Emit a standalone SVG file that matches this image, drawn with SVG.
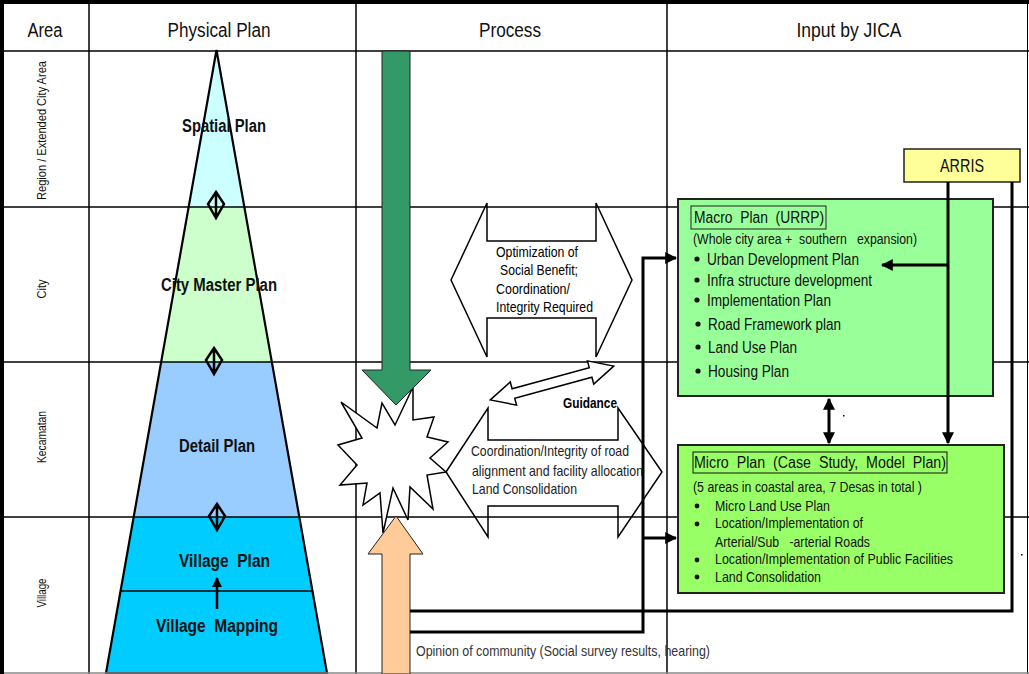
<svg xmlns="http://www.w3.org/2000/svg" width="1029" height="674" viewBox="0 0 1029 674">
  <style>
    text { font-family: "Liberation Sans Narrow", "Liberation Sans", Arial, sans-serif; fill: #111; }
    .hdr { font-size: 20px; text-anchor: middle; }
    .area { font-size: 13px; text-anchor: middle; }
    .tier { font-size: 18px; font-weight: bold; text-anchor: middle; }
    .proc { font-size: 15px; fill: #000; }
    .proc2 { font-size: 14.5px; fill: #222; }
    .guide { font-size: 14px; font-weight: bold; fill: #000; }
    .box { font-size: 16px; }
    .sub { font-size: 14px; }
    .mic { font-size: 15px; }
    .note { font-size: 15px; fill: #333; }
    .grid { stroke: #000; stroke-width: 1.5; fill: none; }
    .conn { stroke: #000; stroke-width: 3; fill: none; }
    .shape { stroke: #000; stroke-width: 1.5; }
  </style>
  <defs>
    <marker id="ah" viewBox="0 0 10 10" refX="9" refY="5" markerWidth="4" markerHeight="4" orient="auto-start-reverse" markerUnits="strokeWidth">
      <path d="M0,0 L10,5 L0,10 Z" fill="#000"/>
    </marker>
    <g id="diamond">
      <path d="M0,-13 L8,-1 L0,13 L-8,-1 Z M0,-13 V13" fill="none" stroke="#000" stroke-width="2.5" stroke-linejoin="miter"/>
    </g>
  </defs>

  <rect x="0" y="0" width="1029" height="674" fill="#fff"/>

  <!-- Physical plan pyramid -->
  <g id="pyramid">
    <polygon points="216.5,50 244.4,207 188.6,207" fill="#CCFFFF"/>
    <polygon points="188.6,207 244.4,207 271.8,362 161.2,362" fill="#CCFFCC"/>
    <polygon points="161.2,362 271.8,362 299.3,517 133.7,517" fill="#99CCFF"/>
    <polygon points="133.7,517 299.3,517 327,673 106,673" fill="#00CCFF"/>
    <polygon points="216.5,50 327,673 106,673" fill="none" stroke="#000" stroke-width="2.2"/>
    <line x1="120" y1="591" x2="312" y2="591" stroke="#000" stroke-width="1.5"/>
  </g>

  <!-- Table grid -->
  <g id="grid">
    <line class="grid" x1="0" y1="51" x2="1029" y2="51"/>
    <line class="grid" x1="0" y1="207" x2="1029" y2="207"/>
    <line class="grid" x1="0" y1="362" x2="1029" y2="362"/>
    <line class="grid" x1="0" y1="517" x2="1029" y2="517"/>
    <line class="grid" x1="89" y1="2" x2="89" y2="674"/>
    <line class="grid" x1="356" y1="2" x2="356" y2="674"/>
    <line class="grid" x1="667" y1="2" x2="667" y2="674"/>
    <line x1="1027.5" y1="2" x2="1027.5" y2="674" stroke="#000" stroke-width="1"/>
    <line x1="0" y1="673" x2="1029" y2="673" stroke="#888" stroke-width="1.5"/>
    <line x1="0" y1="2" x2="1029" y2="2" stroke="#000" stroke-width="4"/>
    <line x1="2" y1="0" x2="2" y2="674" stroke="#000" stroke-width="4"/>
  </g>

  <!-- Header labels -->
  <g id="header">
    <text class="hdr" x="45" y="37" textLength="35" lengthAdjust="spacingAndGlyphs">Area</text>
    <text class="hdr" x="219" y="37" textLength="103" lengthAdjust="spacingAndGlyphs">Physical Plan</text>
    <text class="hdr" x="510" y="37" textLength="62" lengthAdjust="spacingAndGlyphs">Process</text>
    <text class="hdr" x="849" y="37" textLength="105" lengthAdjust="spacingAndGlyphs">Input by JICA</text>
  </g>

  <!-- Area level labels -->
  <g id="areas">
    <text class="area" transform="translate(46,130.5) rotate(-90)" textLength="139" lengthAdjust="spacingAndGlyphs">Region / Extended City Area</text>
    <text class="area" transform="translate(46,289) rotate(-90)" textLength="19" lengthAdjust="spacingAndGlyphs">City</text>
    <text class="area" transform="translate(46,437) rotate(-90)" textLength="52" lengthAdjust="spacingAndGlyphs">Kecamatan</text>
    <text class="area" transform="translate(46,593) rotate(-90)" textLength="29" lengthAdjust="spacingAndGlyphs">Village</text>
  </g>

  <!-- Pyramid tier labels and links -->
  <g id="tiers">
    <text class="tier" x="224" y="132" textLength="84" lengthAdjust="spacingAndGlyphs">Spatial Plan</text>
    <text class="tier" x="219" y="291" textLength="116" lengthAdjust="spacingAndGlyphs">City Master Plan</text>
    <text class="tier" x="217" y="452" textLength="76" lengthAdjust="spacingAndGlyphs">Detail Plan</text>
    <text class="tier" x="224.5" y="567" xml:space="preserve" textLength="91" lengthAdjust="spacingAndGlyphs">Village  Plan</text>
    <text class="tier" x="217" y="632" xml:space="preserve" textLength="122" lengthAdjust="spacingAndGlyphs">Village  Mapping</text>
    <use href="#diamond" x="216" y="205"/>
    <use href="#diamond" x="214" y="361"/>
    <use href="#diamond" x="217" y="517"/>
    <line x1="217" y1="609" x2="217" y2="578" stroke="#000" stroke-width="2.5" marker-end="url(#ah)"/>
  </g>

  <!-- Process column -->
  <g id="coordination-upper">
    <path class="shape" fill="none" d="M451,280 L487,203 L487,241 L596,241 L596,203 L632,280 L596,357 L596,318 L487,318 L487,357 Z"/>
    <text class="proc" x="496" y="257" textLength="82" lengthAdjust="spacingAndGlyphs">Optimization of</text>
    <text class="proc" x="500" y="275" textLength="78" lengthAdjust="spacingAndGlyphs">Social Benefit;</text>
    <text class="proc" x="496" y="294" textLength="74" lengthAdjust="spacingAndGlyphs">Coordination/</text>
    <text class="proc" x="496" y="312" textLength="97" lengthAdjust="spacingAndGlyphs">Integrity Required</text>
  </g>

  <g id="coordination-lower">
    <path class="shape" fill="none" d="M446,472 L488,408 L488,440 L618,440 L618,408 L662,472 L618,537 L618,506 L488,506 L488,537 Z"/>
    <text class="proc2" x="471" y="456" textLength="158" lengthAdjust="spacingAndGlyphs">Coordination/Integrity of road</text>
    <text class="proc2" x="472" y="476" textLength="171" lengthAdjust="spacingAndGlyphs">alignment and facility allocation</text>
    <text class="proc2" x="472" y="494" textLength="105" lengthAdjust="spacingAndGlyphs">Land Consolidation</text>
  </g>

  <g id="guidance">
    <path class="shape" fill="#fff" transform="translate(552,383) rotate(-15.3)" d="M-64,0 L-40,-12 L-40,-5 L40,-5 L40,-12 L64,0 L40,12 L40,5 L-40,5 L-40,12 Z"/>
    <text class="guide" x="563" y="408" textLength="54" lengthAdjust="spacingAndGlyphs">Guidance</text>
  </g>

  <g id="burst">
    <polygon class="shape" fill="#fff" points="341,402 377,428 382,403 395,425 413,387 413,420 434,417 427,437 448,442 430,458 446,472 427,475 433,509 410,487 408,520 393,488 383,533 380,493 363,505 367,483 340,485 357,465 338,445 362,438"/>
  </g>

  <g id="top-down-arrow">
    <path d="M382,51 L410,51 L410,370 L431,370 L396,405 L362,370 L382,370 Z" fill="#339966" stroke="#222" stroke-width="1"/>
  </g>

  <g id="bottom-up-arrow">
    <path d="M396,516 L423,554 L410,554 L410,674 L382,674 L382,554 L368,554 Z" fill="#FFCC99" stroke="#222" stroke-width="1"/>
  </g>

  <!-- JICA inputs -->
  <g id="arris">
    <rect x="904" y="149" width="116" height="33" fill="#FFFF99" stroke="#222" stroke-width="1.5"/>
    <text x="962" y="172" style="font-size:18px;text-anchor:middle" textLength="44" lengthAdjust="spacingAndGlyphs">ARRIS</text>
  </g>

  <g id="macro-plan">
    <rect x="678" y="199" width="315" height="197" fill="#99FF99" stroke="#222" stroke-width="2"/>
    <rect x="691" y="206" width="135" height="23" fill="none" stroke="#222" stroke-width="1"/>
    <text class="box" x="694" y="223" xml:space="preserve" textLength="130" lengthAdjust="spacingAndGlyphs">Macro  Plan  (URRP)</text>
    <text class="sub" x="693" y="244" xml:space="preserve" textLength="224" lengthAdjust="spacingAndGlyphs">(Whole city area +  southern   expansion)</text>
    <g fill="#111">
      <circle cx="697" cy="259" r="2.6"/>
      <circle cx="697" cy="280" r="2.6"/>
      <circle cx="697" cy="300" r="2.6"/>
      <circle cx="698" cy="324" r="2.6"/>
      <circle cx="698" cy="347" r="2.6"/>
      <circle cx="698" cy="371" r="2.6"/>
    </g>
    <text class="box" x="707" y="265" textLength="152" lengthAdjust="spacingAndGlyphs">Urban Development Plan</text>
    <text class="box" x="707" y="286" textLength="165" lengthAdjust="spacingAndGlyphs">Infra structure development</text>
    <text class="box" x="707" y="306" textLength="124" lengthAdjust="spacingAndGlyphs">Implementation Plan</text>
    <text class="box" x="708" y="330" textLength="133" lengthAdjust="spacingAndGlyphs">Road Framework plan</text>
    <text class="box" x="708" y="353" textLength="89" lengthAdjust="spacingAndGlyphs">Land Use Plan</text>
    <text class="box" x="708" y="377" textLength="81" lengthAdjust="spacingAndGlyphs">Housing Plan</text>
  </g>

  <g id="micro-plan">
    <rect x="678" y="445" width="326" height="148" fill="#99FF66" stroke="#222" stroke-width="2"/>
    <rect x="693" y="452" width="254" height="21" fill="none" stroke="#111" stroke-width="1"/>
    <text class="box" x="694" y="468" xml:space="preserve" textLength="252" lengthAdjust="spacingAndGlyphs">Micro  Plan  (Case  Study,  Model  Plan)</text>
    <text class="sub" x="693" y="492" textLength="229" lengthAdjust="spacingAndGlyphs">(5 areas in coastal area, 7 Desas in total )</text>
    <g fill="#111">
      <circle cx="697" cy="506" r="2.4"/>
      <circle cx="697" cy="524" r="2.4"/>
      <circle cx="697" cy="560" r="2.4"/>
      <circle cx="697" cy="577" r="2.4"/>
    </g>
    <text class="mic" x="715" y="511" textLength="115" lengthAdjust="spacingAndGlyphs">Micro Land Use Plan</text>
    <text class="mic" x="715" y="528" textLength="148" lengthAdjust="spacingAndGlyphs">Location/Implementation of</text>
    <text class="mic" x="715" y="547" xml:space="preserve" textLength="155" lengthAdjust="spacingAndGlyphs">Arterial/Sub   -arterial Roads</text>
    <text class="mic" x="715" y="564" textLength="238" lengthAdjust="spacingAndGlyphs">Location/Implementation of Public Facilities</text>
    <text class="mic" x="715" y="582" textLength="106" lengthAdjust="spacingAndGlyphs">Land Consolidation</text>
  </g>

  <!-- Connectors -->
  <g id="connectors">
    <line class="conn" x1="948" y1="182" x2="948" y2="443" marker-end="url(#ah)"/>
    <line class="conn" x1="948" y1="265" x2="882" y2="265" marker-end="url(#ah)"/>
    <polyline class="conn" points="1012,182 1012,611 410,611"/>
    <polyline class="conn" points="410,632 643,632 643,258 676,258" marker-end="url(#ah)"/>
    <line class="conn" x1="643" y1="538" x2="676" y2="538" marker-end="url(#ah)"/>
    <line class="conn" x1="829" y1="399" x2="829" y2="443" marker-start="url(#ah)" marker-end="url(#ah)"/>
  </g>

  <text class="note" x="416" y="656" textLength="294" lengthAdjust="spacingAndGlyphs">Opinion of community (Social survey results, hearing)</text>

  <rect x="843" y="415" width="1.5" height="1.5" fill="#000"/>
  <rect x="1021" y="554" width="1.5" height="1.5" fill="#000"/>
</svg>
